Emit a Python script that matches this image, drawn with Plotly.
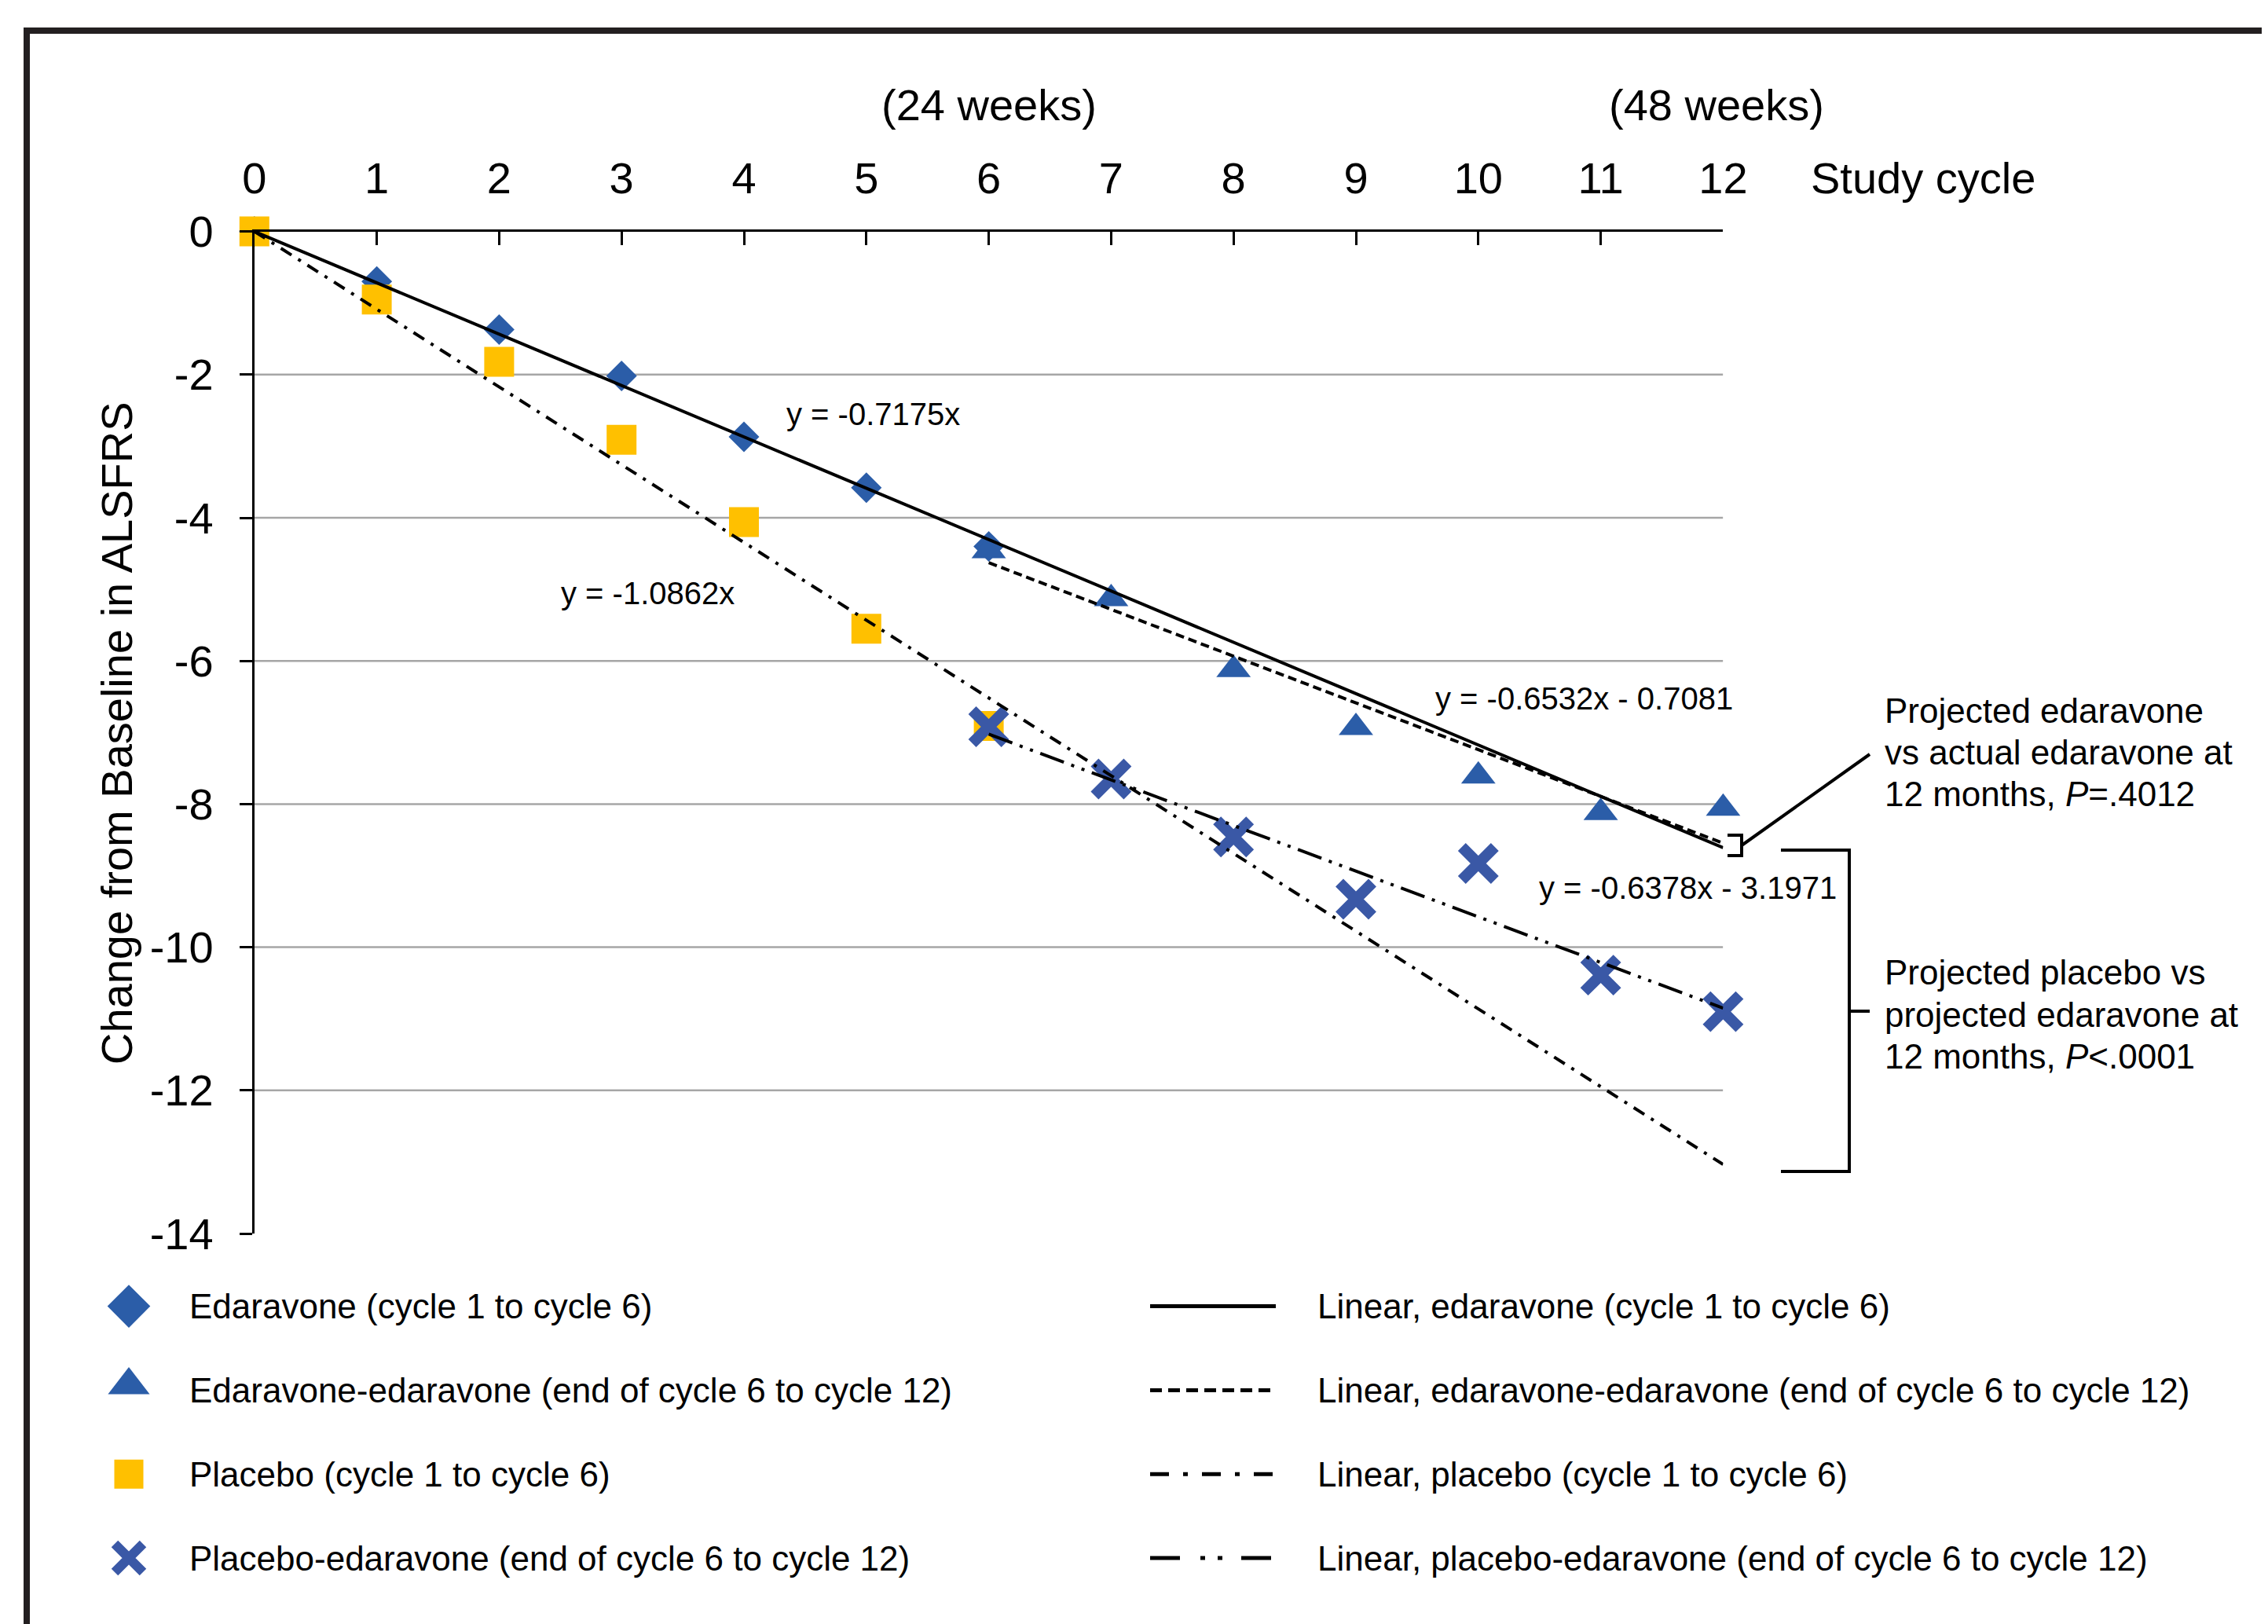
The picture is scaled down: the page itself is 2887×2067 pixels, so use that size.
import plotly.graph_objects as go

W, H = 2887, 2067
OFF = 8  # page body margin in the browser

# ---------------- data ----------------
eda_x = [0, 1, 2, 3, 4, 5, 6]
eda_y = [0, -0.70, -1.37, -2.02, -2.87, -3.58, -4.40]

ee_x = [6, 7, 8, 9, 10, 11, 12]
ee_y = [-4.46, -5.13, -6.12, -6.93, -7.61, -8.12, -8.06]

pla_x = [0, 1, 2, 3, 4, 5, 6]
pla_y = [0, -0.95, -1.82, -2.91, -4.06, -5.55, -6.91]

pe_x = [6, 7, 8, 9, 10, 11, 12]
pe_y = [-6.92, -7.65, -8.46, -9.33, -8.83, -10.39, -10.90]

# trend lines as printed on the chart: y = slope*x + intercept
trend_names = ["Linear, edaravone (cycle 1 to cycle 6)",
               "Linear, edaravone-edaravone (end of cycle 6 to cycle 12)",
               "Linear, placebo (cycle 1 to cycle 6)",
               "Linear, placebo-edaravone (end of cycle 6 to cycle 12)"]
trend_slope = [-0.7175, -0.6532, -1.0862, -0.6378]
trend_icpt = [0.0, -0.7081, 0.0, -3.1971]
trend_x0 = [0, 6, 0, 6]
trend_x1 = [12, 12, 12, 12]
trend_labels = ["y = -0.7175x", "y = -0.6532x - 0.7081",
                "y = -1.0862x", "y = -0.6378x - 3.1971"]

marker_names = ["Edaravone (cycle 1 to cycle 6)",
                "Edaravone-edaravone (end of cycle 6 to cycle 12)",
                "Placebo (cycle 1 to cycle 6)",
                "Placebo-edaravone (end of cycle 6 to cycle 12)"]

x_ticks = list(range(0, 13))
y_ticks = [0, -2, -4, -6, -8, -10, -12, -14]
y_ticktext = ["0", "-2", "-4", "-6", "-8", "-10", "-12", "-14"]
grid_vals = [-2, -4, -6, -8, -10, -12]

# ---------------- styles ----------------
FONT = "Liberation Sans, Arial, Helvetica, sans-serif"
BLUE = "#2B5DA8"
XBLUE = "#3A58A6"
GOLD = "#FFC000"
INK = "#231F20"

m_symbols = ["diamond", "triangle-up", "square", "x-thin"]
m_colors = [BLUE, BLUE, GOLD, XBLUE]
m_sizes_plot = [30, 38, 38, 42]
m_sizes_leg = [42, 46, 37, 36]
m_line_plot = [0, 0, 0, 14]
m_line_leg = [0, 0, 0, 12]
series = [(eda_x, eda_y), (ee_x, ee_y), (pla_x, pla_y), (pe_x, pe_y)]

line_dash_plot = ["solid", "11px,6px", "16px,10px,4px,10px", "32px,10px,4px,10px,4px,10px"]
line_dash_leg = ["solid", "15px,8px", "24px,18px,6px,18px", "38px,26px,6px,16px,6px,24px"]


def X(px):
    return (px - OFF) / W


def Y(py):
    return 1 - (py - OFF) / H


fig = go.Figure()

# markers (drawn first so trend lines lie on top)
for (xs, ys), sym, col, sz, lw, nm in zip(series, m_symbols, m_colors, m_sizes_plot, m_line_plot, marker_names):
    fig.add_trace(go.Scatter(x=xs, y=ys, mode="markers", name=nm, showlegend=False,
                             cliponaxis=False,
                             marker=dict(symbol=sym, color=col, size=sz,
                                         line=dict(width=lw, color=col))))

# trend lines
for s, b, a0, a1, dsh, nm in zip(trend_slope, trend_icpt, trend_x0, trend_x1, line_dash_plot, trend_names):
    xs = [a0, a1]
    ys = [s * a0 + b, s * a1 + b]
    fig.add_trace(go.Scatter(x=xs, y=ys, mode="lines", name=nm, showlegend=False,
                             cliponaxis=False,
                             line=dict(color="black", width=4, dash=dsh)))

# ---------------- manual legend on a hidden pixel overlay ----------------
leg_rows = [1662.6, 1769.4, 1876.2, 1983.0]
leg_marker_dy = [0, -6.5, 0, 0]
for i, (sym, col, sz, lw, nm) in enumerate(zip(m_symbols, m_colors, m_sizes_leg, m_line_leg, marker_names)):
    fig.add_trace(go.Scatter(x=[164], y=[leg_rows[i] + leg_marker_dy[i]], mode="markers",
                             xaxis="x2", yaxis="y2", showlegend=False, cliponaxis=False,
                             marker=dict(symbol=sym, color=col, size=sz,
                                         line=dict(width=lw, color=col))))
    fig.add_annotation(x=X(239), y=Y(leg_rows[i]), xref="paper", yref="paper", text=nm,
                       showarrow=False, xanchor="left", yanchor="middle",
                       font=dict(size=44, color="black", family=FONT))
for i, (dsh, nm) in enumerate(zip(line_dash_leg, trend_names)):
    fig.add_trace(go.Scatter(x=[1464, 1624], y=[leg_rows[i], leg_rows[i]], mode="lines",
                             xaxis="x2", yaxis="y2", showlegend=False, cliponaxis=False,
                             line=dict(color="black", width=5, dash=dsh)))
    fig.add_annotation(x=X(1675), y=Y(leg_rows[i]), xref="paper", yref="paper", text=nm,
                       showarrow=False, xanchor="left", yanchor="middle",
                       font=dict(size=44, color="black", family=FONT))

# ---------------- shapes ----------------
shapes = []
for g in grid_vals:
    shapes.append(dict(type="line", xref="x", yref="y", x0=0, x1=12, y0=g, y1=g,
                       line=dict(color="#A6A6A6", width=2.5), layer="below"))
# frame (top bar + left bar)
shapes.append(dict(type="rect", xref="paper", yref="paper", x0=X(30), x1=1.0, y0=Y(43), y1=Y(35),
                   fillcolor=INK, line=dict(width=0)))
shapes.append(dict(type="rect", xref="paper", yref="paper", x0=X(30), x1=X(38), y0=0, y1=Y(35),
                   fillcolor=INK, line=dict(width=0)))
# brackets
shapes.append(dict(type="path", xref="x2", yref="y2",
                   path="M 2199,1063 H 2217 V 1089 H 2199", line=dict(color="black", width=4)))
shapes.append(dict(type="path", xref="x2", yref="y2",
                   path="M 2217,1076 L 2380,960", line=dict(color="black", width=4)))
shapes.append(dict(type="path", xref="x2", yref="y2",
                   path="M 2267,1082 H 2354 V 1491 H 2267", line=dict(color="black", width=4)))
shapes.append(dict(type="path", xref="x2", yref="y2",
                   path="M 2354,1287 H 2380", line=dict(color="black", width=4)))

# ---------------- annotations ----------------
ann = []
# equations (data coordinates)
eq_pos = [(4.334, -2.55), (9.635, -6.525), (2.492, -5.054), (10.483, -9.17)]
for (ex, ey), t in zip(eq_pos, trend_labels):
    ann.append(dict(x=ex, y=ey, xref="x", yref="y", text=t, showarrow=False,
                    xanchor="left", yanchor="middle",
                    font=dict(size=40, color="black", family=FONT)))

ann.append(dict(x=X(149), y=Y(933), xref="paper", yref="paper",
                text="Change from Baseline in ALSFRS", textangle=-90, showarrow=False,
                xanchor="center", yanchor="middle", font=dict(size=56, color="black", family=FONT)))
ann.append(dict(x=X(2303), y=Y(226), xref="paper", yref="paper", text="Study cycle",
                showarrow=False, xanchor="left", yanchor="middle",
                font=dict(size=56, color="black", family=FONT)))
ann.append(dict(x=X(1259), y=Y(134), xref="paper", yref="paper", text="(24 weeks)",
                showarrow=False, xanchor="center", yanchor="middle",
                font=dict(size=56, color="black", family=FONT)))
ann.append(dict(x=X(2185), y=Y(134), xref="paper", yref="paper", text="(48 weeks)",
                showarrow=False, xanchor="center", yanchor="middle",
                font=dict(size=56, color="black", family=FONT)))

note1 = ["Projected edaravone", "vs actual edaravone at", "12 months, <i>P</i>=.4012"]
note1_y = [904, 957, 1011]
note2 = ["Projected placebo vs", "projected edaravone at", "12 months, <i>P</i>&lt;.0001"]
note2_y = [1237, 1291, 1344]
for t, yy in list(zip(note1, note1_y)) + list(zip(note2, note2_y)):
    ann.append(dict(x=X(2397), y=Y(yy), xref="paper", yref="paper", text=t,
                    showarrow=False, xanchor="left", yanchor="middle",
                    font=dict(size=44, color="black", family=FONT)))

for a in ann:
    fig.add_annotation(**a)

fig.update_layout(
    width=W, height=H,
    margin=dict(l=0, r=0, t=0, b=0, pad=0, autoexpand=False),
    paper_bgcolor="white", plot_bgcolor="rgba(0,0,0,0)",
    font=dict(family=FONT, color="black", size=44),
    showlegend=False,
    shapes=shapes,
    xaxis=dict(domain=[X(323.8), X(2193.4)], range=[0, 12], side="top", anchor="y",
               tickmode="array", tickvals=x_ticks, ticktext=[str(v) for v in x_ticks],
               ticks="inside", ticklen=17, tickwidth=3, tickcolor="black",
               showline=True, linewidth=3, linecolor="black", automargin=False,
               showgrid=False, zeroline=False, ticklabelstandoff=23,
               tickfont=dict(size=56, color="black", family=FONT)),
    yaxis=dict(domain=[Y(1570), Y(294.6)], range=[-14, 0], anchor="x",
               tickmode="array", tickvals=y_ticks, ticktext=y_ticktext,
               ticks="outside", ticklen=16, tickwidth=3, tickcolor="black",
               showline=True, linewidth=3, linecolor="black", automargin=False,
               showgrid=False, zeroline=False, ticklabelstandoff=22,
               tickfont=dict(size=56, color="black", family=FONT)),
    xaxis2=dict(domain=[0, 1], range=[OFF, W + OFF], anchor="y2", visible=False, fixedrange=True,
                automargin=False),
    yaxis2=dict(domain=[0, 1], range=[H + OFF, OFF], anchor="x2", visible=False, fixedrange=True,
                automargin=False),
)

fig.write_html("out.html")
